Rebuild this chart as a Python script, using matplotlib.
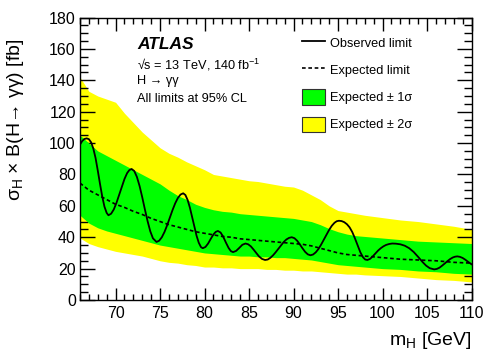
import numpy as np
import matplotlib
matplotlib.use('Agg')
import matplotlib.pyplot as plt
from matplotlib.lines import Line2D
from matplotlib.patches import Patch
from matplotlib.ticker import MultipleLocator

plt.rcParams['font.family'] = ['Liberation Sans', 'DejaVu Sans']
plt.rcParams['mathtext.fontset'] = 'custom'
plt.rcParams['mathtext.rm'] = 'Liberation Sans'
plt.rcParams['mathtext.it'] = 'Liberation Sans:italic'

# expected limit and bands
mass_exp = [66, 67, 68, 69, 70, 71, 72, 73, 74, 75, 76, 77, 78, 79, 80, 81, 82, 83, 84, 85,
            86, 87, 88, 89, 90, 91, 92, 93, 94, 95, 96, 97, 98, 100, 102, 104, 106, 108, 110]
exp_lim = [74.5, 70, 67, 64, 61, 59, 56.5, 54.5, 52, 50, 48, 46.5, 45, 43.5, 42.5, 41.5, 40.5, 40, 39, 38.5,
           38, 37.5, 37, 36.5, 36, 35.5, 34.5, 33, 31.5, 30, 29, 28.5, 28, 27, 26, 25.5, 25, 24, 23.5]
m1s = [54, 49, 46, 44, 42.5, 41, 39.5, 38, 36.5, 35, 34, 33, 32, 31, 30, 29.5, 29, 28.5, 28, 28,
       27.5, 27.5, 27, 27, 26.5, 26, 25.5, 24.5, 23.5, 22.5, 22, 21.5, 21, 20, 19.5, 18.5, 18, 17, 16.5]
p1s = [105, 100, 95, 92, 89, 86, 83, 80, 77, 74, 70, 66.5, 64, 61, 59, 57.5, 56.5, 56, 55, 54.5,
       54, 53.5, 53, 52.5, 52, 51, 50, 48, 45.5, 43.5, 42, 41, 40.5, 39.5, 38.5, 37.5, 37, 36.5, 36]
m2s = [39.5, 36, 34, 32.5, 31, 30, 29, 28, 26.5, 25, 24, 23.5, 22.5, 22, 21, 21, 20.5, 20.5, 20, 20,
       20, 19.5, 19.5, 19, 19, 18.5, 18.5, 18, 17.5, 17, 16.5, 16.5, 16, 15.5, 15, 14, 13, 12.5, 11.5]
p2s = [142, 133, 130, 128, 126, 119, 113, 107, 102, 97, 93.5, 91, 88, 85.5, 83, 80, 79, 78, 77, 76,
       75.5, 74.5, 73.5, 72.5, 72, 70, 67, 64, 60, 57, 56, 55, 54, 52.5, 51, 50, 48.5, 47, 45]

# observed limit
mass_obs = [66.0, 66.25, 66.5, 66.75, 67.0, 67.25, 67.5, 67.75, 68.0, 68.25, 68.5, 68.75, 69.0, 69.2,
            69.5, 69.8, 70.1, 70.4, 70.7, 71.0, 71.3, 71.55, 71.8,
            72.1, 72.4, 72.7, 73.0, 73.3, 73.6, 73.9, 74.2, 74.6,
            74.9, 75.2, 75.5, 75.8, 76.1, 76.4, 76.7, 77.0, 77.3, 77.6,
            77.85, 78.1, 78.35, 78.6, 78.85, 79.1, 79.35, 79.6, 79.8,
            80.1, 80.4, 80.7, 81.0, 81.25, 81.5,
            81.8, 82.1, 82.4, 82.7, 82.95, 83.2,
            83.55, 83.9, 84.25, 84.6,
            84.9, 85.2, 85.5, 85.8, 86.1, 86.45, 86.8,
            87.1, 87.4, 87.7, 88.0, 88.3, 88.6, 88.9, 89.2, 89.5, 89.8,
            90.1, 90.4, 90.7, 91.0, 91.3, 91.6, 91.9,
            92.2, 92.5, 92.8, 93.1, 93.4, 93.7, 94.0, 94.3, 94.6, 94.85, 95.1,
            95.4, 95.7, 96.0, 96.3, 96.6, 96.9, 97.2, 97.5, 97.8, 98.05, 98.3,
            98.6, 98.9, 99.2, 99.5, 99.8, 100.1, 100.4, 100.75, 101.1,
            101.5, 102.0, 102.5, 103.0, 103.5, 104.0, 104.5, 104.9, 105.3, 105.8,
            106.1, 106.4, 106.7, 107.0, 107.3, 107.6, 107.9, 108.15, 108.4,
            108.7, 109.0, 109.3, 109.6, 110.0]
obs_lim = [99, 101.3, 102.6, 103.0, 102.5, 100.5, 96.5, 90.5, 82.5, 74, 66, 59.5, 55.5, 54,
           55, 57.7, 61.9, 67.0, 72.3, 77.1, 80.9, 82.8, 83.5,
           82.2, 78.4, 72.6, 65.4, 57.6, 50.2, 43.8, 39.3, 37,
           37.8, 40.0, 43.4, 47.7, 52.5, 57.3, 61.6, 65.0, 67.2, 68,
           66.9, 63.7, 58.9, 53.0, 46.8, 41.0, 36.5, 33.7, 33,
           33.8, 36.0, 39.0, 41.8, 43.4, 44,
           43.0, 40.3, 36.6, 33.2, 31.2, 30.5,
           31.3, 33.2, 35.2, 36,
           35.5, 34.2, 32.2, 30.0, 27.9, 26.2, 25.5,
           25.8, 26.9, 28.5, 30.5, 32.7, 35.0, 37.0, 38.6, 39.6, 40,
           39.4, 37.8, 35.5, 33.0, 30.7, 29.1, 28.5,
           29.0, 30.4, 32.5, 35.3, 38.4, 41.6, 44.7, 47.3, 49.2, 50.2, 50.5,
           50.3, 49.6, 48.3, 46.3, 43.3, 39.3, 34.8, 30.5, 27.3, 25.8, 25.5,
           26.2, 27.8, 29.7, 31.5, 33.0, 34.2, 35.1, 35.7, 36,
           35.9, 35.5, 34.6, 33.0, 30.6, 27.5, 24.2, 21.9, 20.3, 19.5,
           19.8, 20.6, 21.9, 23.3, 24.8, 26.1, 27.1, 27.6, 27.8,
           27.5, 26.8, 25.7, 24.4, 22.8]

fig = plt.figure(figsize=(4.98, 3.58), dpi=100)
ax = fig.add_axes([0.1606, 0.162, 0.7862, 0.789])

ax.fill_between(mass_exp, m2s, p2s, color='#ffff00', lw=0, zorder=1)
ax.fill_between(mass_exp, m1s, p1s, color='#00ff00', lw=0, zorder=2)
ax.plot(mass_exp, exp_lim, color='black', lw=1.2, ls=(0, (2.2, 1.6)), zorder=3)
ax.plot(mass_obs, obs_lim, color='black', lw=1.3, zorder=4)

ax.set_xlim(66, 110)
ax.set_ylim(0, 180)
ax.xaxis.set_major_locator(MultipleLocator(5))
ax.xaxis.set_minor_locator(MultipleLocator(1))
ax.yaxis.set_major_locator(MultipleLocator(20))
ax.yaxis.set_minor_locator(MultipleLocator(5))
ax.tick_params(which='both', direction='in', top=True, right=True, labelsize=11.5, width=1.0)
ax.tick_params(axis='y', which='major', length=11, pad=3)
ax.tick_params(axis='y', which='minor', length=5.5)
ax.tick_params(axis='x', which='major', length=9, pad=4)
ax.tick_params(axis='x', which='minor', length=4.5)
for s in ax.spines.values():
    s.set_linewidth(1.0)

ax.set_xlabel('m$_{\\rm H}$ [GeV]', fontsize=14, loc='right')
ax.xaxis.set_label_coords(1.0, -0.105)
ax.set_ylabel('σ$_{\\rm H}$ × B(H→ γγ) [fb]', fontsize=14, loc='top')
ax.yaxis.set_label_coords(-0.137, 0.927)

txt = 9.2
ax.text(0.146, 0.905, 'ATLAS', transform=ax.transAxes, fontsize=12.5, fontweight='bold',
        fontstyle='italic', va='center', ha='left')
ax.text(0.146, 0.834, '√s = 13 TeV, 140 fb$^{-1}$', transform=ax.transAxes, fontsize=txt,
        va='center', ha='left')
ax.text(0.146, 0.775, 'H → γγ', transform=ax.transAxes, fontsize=txt, va='center', ha='left')
ax.text(0.146, 0.713, 'All limits at 95% CL', transform=ax.transAxes, fontsize=txt,
        va='center', ha='left')

handles = [Line2D([], [], color='black', lw=1.3),
           Line2D([], [], color='black', lw=1.2, ls=(0, (2.2, 1.6))),
           Patch(facecolor='#00ff00', edgecolor='#333333', lw=0.8),
           Patch(facecolor='#ffff00', edgecolor='#333333', lw=0.8)]
labels = ['Observed limit', 'Expected limit', 'Expected ± 1σ', 'Expected ± 2σ']
ax.legend(handles, labels, loc='upper left', bbox_to_anchor=(0.566, 0.937), frameon=False,
          fontsize=txt, handlelength=1.8, handleheight=1.45, labelspacing=0.93,
          handletextpad=0.45, borderpad=0, borderaxespad=0)

fig.savefig('out.png', dpi=100)
